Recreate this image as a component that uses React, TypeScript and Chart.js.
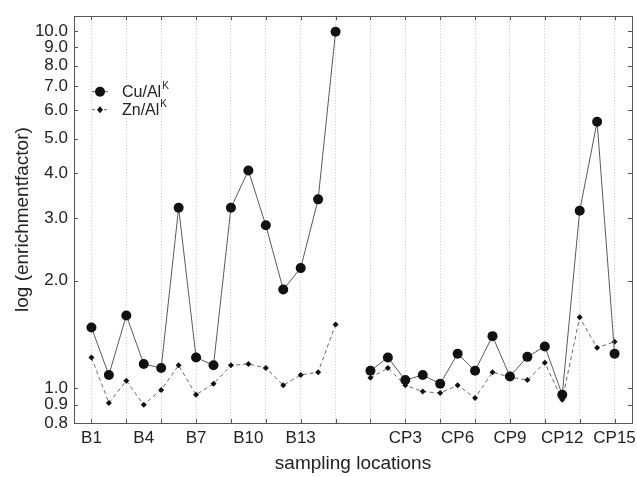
import React, { useEffect, useRef } from 'react';
import { Chart, registerables } from 'chart.js';

Chart.register(...registerables);

// ---- data ----
const bSites = ['B1', 'B2', 'B3', 'B4', 'B5', 'B6', 'B7', 'B8', 'B9', 'B10', 'B11', 'B12', 'B13', 'B14', 'B15'];
const cpSites = ['CP1', 'CP2', 'CP3', 'CP4', 'CP5', 'CP6', 'CP7', 'CP8', 'CP9', 'CP10', 'CP11', 'CP12', 'CP13', 'CP14', 'CP15'];
const labelledSites = ['B1', 'B4', 'B7', 'B10', 'B13', 'CP3', 'CP6', 'CP9', 'CP12', 'CP15'];

const cuB = [1.48, 1.09, 1.6, 1.17, 1.14, 3.2, 1.22, 1.16, 3.2, 4.07, 2.86, 1.89, 2.17, 3.38, 9.95];
const cuCP = [1.12, 1.22, 1.055, 1.09, 1.03, 1.25, 1.12, 1.4, 1.08, 1.225, 1.31, 0.96, 3.14, 5.57, 1.25];
const znB = [1.22, 0.91, 1.05, 0.9, 0.99, 1.16, 0.96, 1.03, 1.16, 1.17, 1.14, 1.02, 1.09, 1.11, 1.51];
const znCP = [1.07, 1.14, 1.02, 0.98, 0.97, 1.02, 0.94, 1.11, 1.075, 1.055, 1.18, 0.93, 1.58, 1.3, 1.35];

const yTicks = [0.8, 0.9, 1, 2, 3, 4, 5, 6, 7, 8, 9, 10];
const yMin = 0.8;
const yMax = 11;

const seriesNames = ['Cu/Al', 'Zn/Al'];
const superscript = 'K';

// all positions: B sites, one empty slot, CP sites
const allSites = [...bSites, '', ...cpSites];

function toPoints(bVals: number[], cpVals: number[]) {
  const pts: { x: number; y: number | null }[] = [];
  allSites.forEach((s, i) => {
    const bi = bSites.indexOf(s);
    const ci = cpSites.indexOf(s);
    if (bi >= 0) pts.push({ x: i, y: bVals[bi] });
    else if (ci >= 0) pts.push({ x: i, y: cpVals[ci] });
    else pts.push({ x: i, y: null });
  });
  return pts;
}

const FONT = '"Liberation Sans", Arial, Helvetica, sans-serif';
const TEXT = '#222';
const AXIS = '#555';

const frameTicksPlugin = {
  id: 'frameTicks',
  afterDraw(chart: any) {
    const { ctx, chartArea } = chart;
    const { left, right, top, bottom } = chartArea;
    const xs = chart.scales.x;
    const ys = chart.scales.y;
    ctx.save();
    ctx.strokeStyle = AXIS;
    ctx.lineWidth = 1;
    ctx.setLineDash([]);
    ctx.strokeRect(Math.round(left) + 0.5, Math.round(top) + 0.5, Math.round(right - left), Math.round(bottom - top));
    ctx.beginPath();
    for (let i = 0; i < allSites.length; i += 2) {
      const px = Math.round(xs.getPixelForValue(i)) + 0.5;
      ctx.moveTo(px, bottom);
      ctx.lineTo(px, bottom - 4);
      ctx.moveTo(px, top);
      ctx.lineTo(px, top + 4);
    }
    yTicks.forEach((v) => {
      const py = Math.round(ys.getPixelForValue(v)) + 0.5;
      ctx.moveTo(left, py);
      ctx.lineTo(left + 4, py);
      ctx.moveTo(right, py);
      ctx.lineTo(right - 4, py);
    });
    ctx.stroke();
    ctx.restore();
  },
};

const legendPlugin = {
  id: 'customLegend',
  afterDraw(chart: any) {
    const { ctx, chartArea } = chart;
    const { left, top } = chartArea;
    const rows = [
      { name: seriesNames[0], dash: [] as number[], marker: 'circle', y: top + 75 },
      { name: seriesNames[1], dash: [3, 3], marker: 'diamond', y: top + 93 },
    ];
    ctx.save();
    rows.forEach((r) => {
      ctx.strokeStyle = '#666';
      ctx.lineWidth = 1;
      ctx.setLineDash(r.dash);
      ctx.beginPath();
      ctx.moveTo(left + 18, r.y + 0.5);
      ctx.lineTo(left + 34, r.y + 0.5);
      ctx.stroke();
      ctx.setLineDash([]);
      ctx.fillStyle = '#111';
      const cx = left + 26;
      ctx.beginPath();
      if (r.marker === 'circle') {
        ctx.arc(cx, r.y + 0.5, 5, 0, Math.PI * 2);
      } else {
        ctx.moveTo(cx, r.y - 3);
        ctx.lineTo(cx + 3, r.y + 0.5);
        ctx.lineTo(cx, r.y + 4);
        ctx.lineTo(cx - 3, r.y + 0.5);
        ctx.closePath();
      }
      ctx.fill();
      ctx.fillStyle = TEXT;
      ctx.textBaseline = 'middle';
      ctx.textAlign = 'left';
      ctx.font = `16px ${FONT}`;
      const tx = left + 48;
      ctx.fillText(r.name, tx, r.y + 1);
      const w = ctx.measureText(r.name).width;
      ctx.font = `10px ${FONT}`;
      ctx.fillText(superscript, tx + w + 1, r.y - 5);
    });
    ctx.restore();
  },
};

export default function App() {
  const canvasRef = useRef<HTMLCanvasElement | null>(null);

  useEffect(() => {
    const canvas = canvasRef.current;
    if (!canvas) return;
    const chart = new Chart(canvas, {
      type: 'line',
      data: {
        datasets: [
          {
            label: seriesNames[0],
            data: toPoints(cuB, cuCP) as any,
            borderColor: '#5a5a5a',
            borderWidth: 1,
            pointStyle: 'circle',
            pointRadius: 5,
            pointBackgroundColor: '#111',
            pointBorderColor: '#111',
            pointBorderWidth: 0,
            spanGaps: false,
            tension: 0,
          },
          {
            label: seriesNames[1],
            data: toPoints(znB, znCP) as any,
            borderColor: '#6a6a6a',
            borderWidth: 1,
            borderDash: [4, 3],
            pointStyle: 'rectRot',
            pointRadius: 3,
            pointBackgroundColor: '#111',
            pointBorderColor: '#111',
            pointBorderWidth: 0,
            spanGaps: false,
            tension: 0,
          },
        ],
      },
      options: {
        responsive: false,
        animation: false,
        parsing: true,
        layout: { padding: { left: 0, top: 15, right: 3, bottom: 0 } },
        plugins: {
          legend: { display: false },
          tooltip: { enabled: false },
        },
        scales: {
          x: {
            type: 'linear',
            min: -1,
            max: allSites.length,
            afterBuildTicks: (scale: any) => {
              const t: any[] = [];
              for (let i = -1; i <= allSites.length; i++) t.push({ value: i });
              scale.ticks = t;
            },
            afterFit: (scale: any) => {
              scale.height = 54;
            },
            ticks: {
              autoSkip: false,
              maxRotation: 0,
              minRotation: 0,
              padding: 5,
              color: TEXT,
              font: { family: FONT, size: 17 },
              callback: (v: any) => {
                const s = allSites[v];
                return s && labelledSites.includes(s) ? s : '';
              },
            },
            grid: {
              drawTicks: false,
              color: (ctx: any) =>
                ctx.tick && ctx.tick.value >= 0 && ctx.tick.value % 2 === 0 ? '#c8c8c8' : 'rgba(0,0,0,0)',
              lineWidth: 1,
            },
            border: { display: false, dash: [1, 2] },
            title: {
              display: true,
              text: 'sampling locations',
              color: TEXT,
              font: { family: FONT, size: 19 },
              padding: { top: 0, bottom: 2 },
            },
          },
          y: {
            type: 'logarithmic',
            min: yMin,
            max: yMax,
            afterBuildTicks: (scale: any) => {
              scale.ticks = yTicks.map((v) => ({ value: v }));
            },
            afterFit: (scale: any) => {
              scale.width = 74;
            },
            ticks: {
              autoSkip: false,
              padding: 6,
              color: TEXT,
              font: { family: FONT, size: 17 },
              callback: (v: any) => Number(v).toFixed(1),
            },
            grid: { display: false, drawTicks: false },
            border: { display: false },
            title: {
              display: true,
              text: 'log (enrichmentfactor)',
              color: TEXT,
              font: { family: FONT, size: 19 },
              padding: { top: 11, bottom: 0 },
            },
          },
        },
      },
      plugins: [frameTicksPlugin, legendPlugin],
    });
    return () => chart.destroy();
  }, []);

  return (
    <div style={{ position: 'fixed', left: 0, top: 0, width: 637, height: 477, background: '#fff' }}>
      <canvas ref={canvasRef} width={637} height={477} style={{ display: 'block' }} />
    </div>
  );
}
